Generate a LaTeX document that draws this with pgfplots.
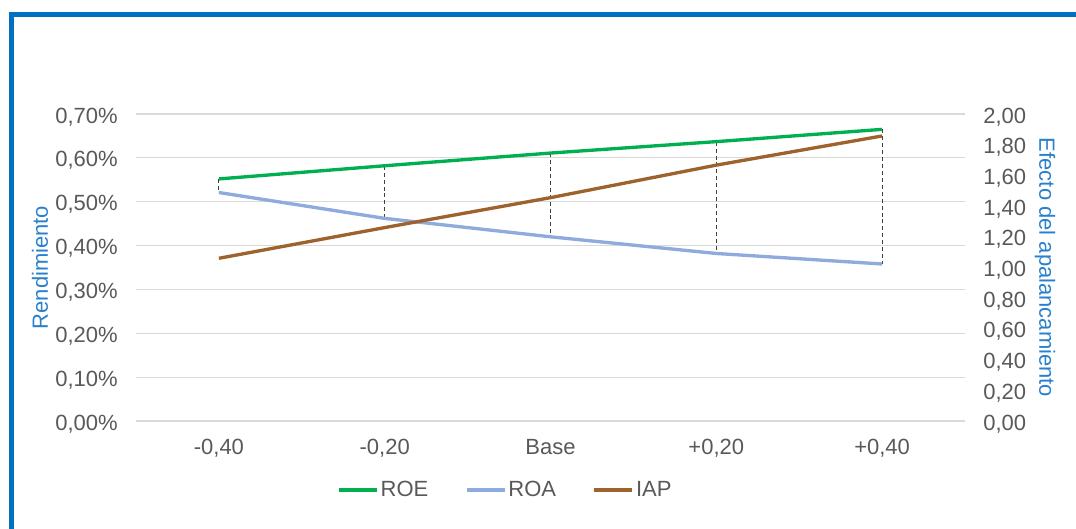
\documentclass[border=0pt]{standalone}
\usepackage{fontspec}
\setmainfont{Liberation Sans}
\usepackage{pgfplots}
\usepackage{pgfplotstable}
\pgfplotsset{compat=1.18}

\definecolor{frameblue}{RGB}{0,112,192}
\definecolor{labelblue}{RGB}{41,128,205}
\definecolor{ticktext}{RGB}{89,89,89}
\definecolor{gridgray}{RGB}{217,217,217}
\definecolor{roegreen}{RGB}{0,176,80}
\definecolor{roablue}{RGB}{143,170,220}
\definecolor{iapbrown}{RGB}{158,98,44}
\definecolor{dropgray}{RGB}{64,64,64}

\newcommand\chartfont{\fontsize{16.5}{19.8}\selectfont}

% x: escenario (0..4), roe y roa en %, iap = roe/roa
\pgfplotstableread{
x roe   roa   iap
0 0.552 0.521 1.060
1 0.582 0.462 1.260
2 0.611 0.420 1.455
3 0.637 0.382 1.667
4 0.665 0.358 1.857
}\datos

\pgfplotsset{
  base/.style={
    scale only axis,
    width=621.75pt, height=230.25pt,
    at={(102pt,-315.75pt)}, anchor=south west,
    xmin=-0.5, xmax=4.5,
    xtick={0,1,2,3,4},
    axis line style={draw=none},
    major tick length=0pt,
    tick label style={font=\chartfont, text=ticktext, inner sep=0pt},
  },
}

\begin{document}
\begin{tikzpicture}
\useasboundingbox (0,0) rectangle (807pt,-396.75pt);

\begin{scope}
  \clip (0,0) rectangle (807pt,-396.75pt);
  \draw[frameblue, line width=3.6pt] (8.7pt,-420pt) -- (8.7pt,-10.875pt) -- (830pt,-10.875pt);
\end{scope}

% eje izquierdo: rendimiento
\begin{axis}[base,
  ymin=0, ymax=0.7,
  ytick={0,0.1,0.2,0.3,0.4,0.5,0.6,0.7},
  yticklabels={{0,00\%},{0,10\%},{0,20\%},{0,30\%},{0,40\%},{0,50\%},{0,60\%},{0,70\%}},
  yticklabel style={anchor=base east, xshift=-13.5pt, yshift=-6.8pt},
  xticklabels={{-0,40},{-0,20},Base,{+0,20},{+0,40}},
  xticklabel style={anchor=base, yshift=-24.75pt},
  ymajorgrids, grid style={gridgray, line width=0.8pt},
  ylabel={Rendimiento},
  every axis y label/.style={at={(axis description cs:-0.1158,0.5)}, rotate=90, anchor=center,
    font=\chartfont, text=labelblue},
]
\addplot[draw=none, mark=none, forget plot,
  error bars/.cd, y dir=minus, y explicit, error mark=none,
  error bar style={dropgray, line width=0.7pt, dash pattern=on 3pt off 2.2pt}]
  table[x=x, y=roe, y error expr=\thisrow{roe}-\thisrow{roa}] {\datos};
\addplot[roegreen, line width=2.5pt, mark=none] table[x=x, y=roe] {\datos};
\addplot[roablue, line width=2.5pt, mark=none] table[x=x, y=roa] {\datos};
\end{axis}

% eje derecho: efecto del apalancamiento
\begin{axis}[base,
  ymin=0, ymax=2,
  ytick={0,0.2,0.4,0.6,0.8,1,1.2,1.4,1.6,1.8,2},
  yticklabels={{0,00},{0,20},{0,40},{0,60},{0,80},{1,00},{1,20},{1,40},{1,60},{1,80},{2,00}},
  axis y line*=right,
  axis x line=none,
  yticklabel style={anchor=base west, xshift=13.5pt, yshift=-6.8pt},
  ylabel={Efecto del apalancamiento},
  every axis y label/.style={at={(axis description cs:1.0965,0.5)}, rotate=-90, anchor=center,
    font=\chartfont, text=labelblue},
  legend style={draw=none, fill=none, at={(0.4457,-0.2248)}, anchor=center,
    font=\chartfont, text=ticktext, legend columns=3,
    /tikz/every even column/.append style={column sep=26pt},
    nodes={inner sep=1.5pt}},
  legend image code/.code={\draw[#1] (0pt,0pt) -- (28.5pt,0pt);},
]
\addlegendimage{roegreen, line width=2.5pt}
\addlegendentry{ROE}
\addlegendimage{roablue, line width=2.5pt}
\addlegendentry{ROA}
\addplot[iapbrown, line width=2.5pt, mark=none] table[x=x, y=iap] {\datos};
\addlegendentry{IAP}
\end{axis}
\end{tikzpicture}
\end{document}
